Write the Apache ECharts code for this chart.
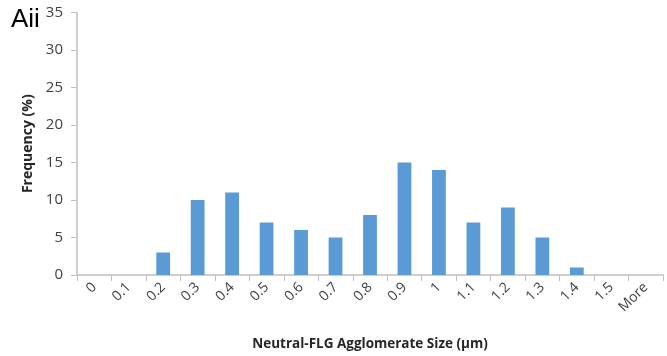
<!DOCTYPE html>
<html>
<head>
<meta charset="utf-8">
<script src="https://cdn.jsdelivr.net/npm/echarts@6/dist/echarts.min.js"></script>
<style>
html,body{margin:0;padding:0;background:#fff;}
#chart{width:667px;height:356px;}
</style>
</head>
<body>
<div id="chart"></div>
<script>
// Histogram bins (µm) and frequency (%) per bin
const categories = ['0','0.1','0.2','0.3','0.4','0.5','0.6','0.7','0.8','0.9','1','1.1','1.2','1.3','1.4','1.5','More'];
const frequency = [0,0,3,10,11,7,6,5,8,15,14,7,9,5,1,0,0];
const yTicks = {min:0, max:35, interval:5};

const chart = echarts.init(document.getElementById('chart'));
const font = '"Open Sans", "Liberation Sans", sans-serif';
chart.setOption({
  animation:false,
  graphic:[{
    type:'text', left:11, top:7,
    style:{text:'Aii', font:'26px "Liberation Sans", Arial, sans-serif', fill:'#000'}
  }],
  grid:{left:77, right:4, top:12.5, bottom:81, containLabel:false},
  xAxis:{
    type:'category',
    data:categories,
    name:'Neutral-FLG Agglomerate Size (µm)',
    nameLocation:'middle',
    nameGap:62,
    nameTextStyle:{fontFamily:font, fontSize:13.5, fontWeight:'bold', color:'#262626'},
    axisLine:{lineStyle:{color:'#bfbfbf', width:1.5}},
    axisTick:{show:true, alignWithLabel:false, length:6, lineStyle:{color:'#bfbfbf'}},
    axisLabel:{rotate:45, margin:10, fontFamily:font, fontSize:14, color:'#404040', interval:0}
  },
  yAxis:{
    type:'value',
    min:yTicks.min, max:yTicks.max, interval:yTicks.interval,
    name:'Frequency (%)',
    nameLocation:'middle',
    nameGap:40,
    nameRotate:90,
    nameTextStyle:{fontFamily:font, fontSize:14, fontWeight:'bold', color:'#262626'},
    axisLine:{show:true, lineStyle:{color:'#bfbfbf', width:1.5}},
    axisTick:{show:true, length:6, lineStyle:{color:'#bfbfbf'}},
    splitLine:{show:false},
    axisLabel:{margin:14, fontFamily:font, fontSize:15, color:'#404040'}
  },
  series:[{
    type:'bar',
    data:frequency,
    barWidth:'40%',
    itemStyle:{color:'#5b9bd5'}
  }]
});
</script>
</body>
</html>
